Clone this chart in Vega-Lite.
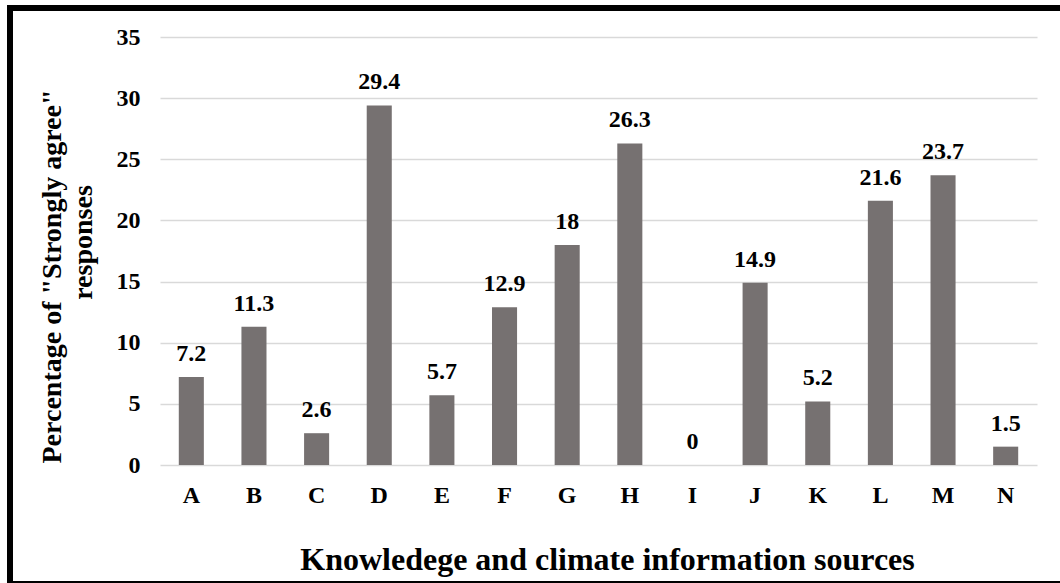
{
  "$schema": "https://vega.github.io/schema/vega-lite/v6.json",
  "width": 1050,
  "height": 576,
  "autosize": {"type": "none"},
  "padding": {"left": 10, "top": 8, "right": 0, "bottom": -1},
  "background": "white",
  "config": {
    "view": {"stroke": "black", "strokeWidth": 6, "strokeDash": [1050, 576, 3000]},
    "font": "Liberation Serif"
  },
  "data": {
    "values": [
      {"source": "A", "pct": 7.2},
      {"source": "B", "pct": 11.3},
      {"source": "C", "pct": 2.6},
      {"source": "D", "pct": 29.4},
      {"source": "E", "pct": 5.7},
      {"source": "F", "pct": 12.9},
      {"source": "G", "pct": 18},
      {"source": "H", "pct": 26.3},
      {"source": "I", "pct": 0},
      {"source": "J", "pct": 14.9},
      {"source": "K", "pct": 5.2},
      {"source": "L", "pct": 21.6},
      {"source": "M", "pct": 23.7},
      {"source": "N", "pct": 1.5}
    ]
  },
  "encoding": {
    "x": {
      "field": "source",
      "type": "nominal",
      "sort": null,
      "scale": {"range": [150, 1027], "paddingInner": 0.6, "paddingOuter": 0.3},
      "axis": {
        "title": "Knowledege and climate information sources",
        "titleFont": "Liberation Serif",
        "titleFontSize": 32,
        "titleFontWeight": "bold",
        "titleColor": "black",
        "titleBaseline": "alphabetic",
        "titleAlign": "center",
        "titleX": 597,
        "titleY": 104,
        "labelAngle": 0,
        "labelFont": "Liberation Serif",
        "labelFontSize": 24,
        "labelFontWeight": "bold",
        "labelColor": "black",
        "labelPadding": 18,
        "ticks": false,
        "tickSize": 0,
        "domain": false,
        "offset": -119
      }
    },
    "y": {
      "field": "pct",
      "type": "quantitative",
      "scale": {"domain": [0, 35], "range": [457, 29], "nice": false}
    }
  },
  "layer": [
    {
      "mark": {"type": "bar", "color": "#767171"},
      "encoding": {
        "y": {
          "field": "pct",
          "type": "quantitative",
          "scale": {"domain": [0, 35], "range": [457, 29], "nice": false},
          "axis": {
            "orient": "left",
            "title": "Percentage of \"Strongly agree\"",
            "titleFont": "Liberation Serif",
            "titleFontSize": 28,
            "titleFontWeight": "bold",
            "titleColor": "black",
            "titleAngle": -90,
            "titleAlign": "center",
            "titleBaseline": "alphabetic",
            "titleX": -100,
            "titleY": 268,
            "values": [0, 5, 10, 15, 20, 25, 30, 35],
            "labelFont": "Liberation Serif",
            "labelFontSize": 24,
            "labelFontWeight": "bold",
            "labelColor": "black",
            "labelPadding": 20,
            "ticks": false,
            "tickSize": 0,
            "domain": false,
            "grid": true,
            "gridColor": "#d9d9d9",
            "gridWidth": 1.5,
            "offset": -150
          }
        }
      }
    },
    {
      "mark": {
        "type": "text",
        "baseline": "alphabetic",
        "dy": -16,
        "font": "Liberation Serif",
        "fontSize": 24,
        "fontWeight": "bold",
        "color": "black"
      },
      "encoding": {
        "text": {"field": "pct", "type": "quantitative"},
        "y": {
          "field": "pct",
          "type": "quantitative",
          "scale": {"domain": [0, 35], "range": [457, 29], "nice": false},
          "axis": {
            "orient": "right",
            "title": "responses",
            "titleFont": "Liberation Serif",
            "titleFontSize": 28,
            "titleFontWeight": "bold",
            "titleColor": "black",
            "titleAngle": -90,
            "titleAlign": "center",
            "titleBaseline": "alphabetic",
            "titleX": -969,
            "titleY": 234,
            "labels": false,
            "ticks": false,
            "domain": false,
            "grid": false
          }
        }
      }
    }
  ],
  "resolve": {"axis": {"y": "independent"}}
}
